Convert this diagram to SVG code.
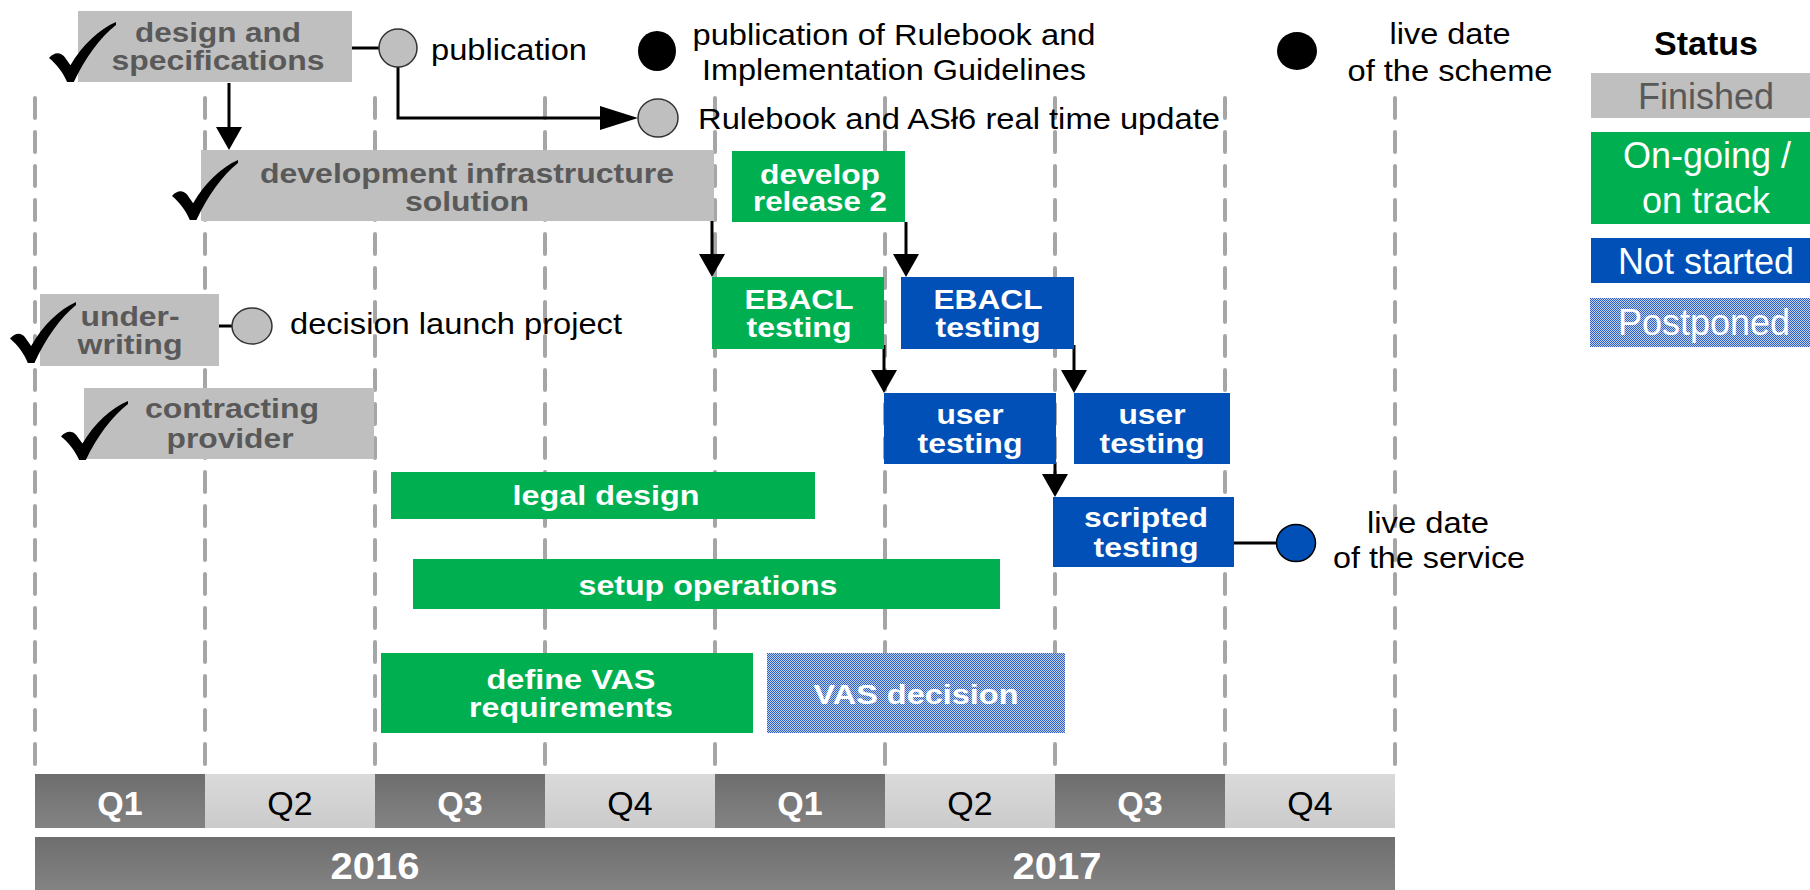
<svg xmlns="http://www.w3.org/2000/svg" width="1810" height="890" viewBox="0 0 1810 890">
<style>
text{font-family:"Liberation Sans",Arial,sans-serif}
.gray{fill:#BFBFBF}
.green{fill:#00B050}
.blue{fill:#0050B8}
.pp{fill:url(#dots)}
.tg{font-weight:bold;font-size:28px;fill:#595959;text-anchor:middle}
.tw{font-weight:bold;font-size:28px;fill:#FFFFFF;text-anchor:middle}
.tb{font-size:30px;fill:#000000}
.grid{stroke:#A6A6A6;stroke-width:4;stroke-dasharray:20 14;stroke-linecap:round;fill:none}
.con{stroke:#000;stroke-width:3;fill:none}
.ms{fill:#BFBFBF;stroke:#333;stroke-width:1.5}
.lg{font-size:36px;text-anchor:middle}
.q{font-size:34px;text-anchor:middle}
</style>
<defs>
<pattern id="dots" width="2" height="2" patternUnits="userSpaceOnUse">
<rect width="2" height="2" fill="#C0D1EF"/>
<rect width="1" height="1" fill="#2F5FC2"/>
<rect x="1" y="1" width="1" height="1" fill="#2F5FC2"/>
</pattern>
<symbol id="chk" viewBox="0 0 100 100" preserveAspectRatio="none">
<path d="M0 60 C8 50 17 50 23 58 L32 72 C50 38 75 12 100 0 L100 5 C76 26 54 60 37 100 L27 100 C21 84 11 70 0 60 Z" fill="#000"/>
</symbol>
<marker id="ah" markerUnits="userSpaceOnUse" markerWidth="23" markerHeight="26" viewBox="0 0 23 26" refX="11" refY="13" orient="auto">
<path d="M0 0 L23 13 L0 26 Z" fill="#000"/>
</marker>
<marker id="ahh" markerUnits="userSpaceOnUse" markerWidth="38" markerHeight="24" viewBox="0 0 38 24" refX="26" refY="12" orient="auto">
<path d="M0 0 L38 12 L0 24 Z" fill="#000"/>
</marker>
<linearGradient id="dk" x1="0" y1="0" x2="0" y2="1"><stop offset="0" stop-color="#6E6E6E"/><stop offset="1" stop-color="#838383"/></linearGradient>
<linearGradient id="lt" x1="0" y1="0" x2="0" y2="1"><stop offset="0" stop-color="#DADADA"/><stop offset="1" stop-color="#CBCBCB"/></linearGradient>
</defs>
<rect width="1810" height="890" fill="#FFFFFF"/>

<g id="grid">
<line class="grid" x1="35" y1="98" x2="35" y2="774"/>
<line class="grid" x1="205" y1="98" x2="205" y2="774"/>
<line class="grid" x1="375" y1="98" x2="375" y2="774"/>
<line class="grid" x1="545" y1="98" x2="545" y2="774"/>
<line class="grid" x1="715" y1="98" x2="715" y2="774"/>
<line class="grid" x1="885" y1="98" x2="885" y2="774"/>
<line class="grid" x1="1055" y1="98" x2="1055" y2="774"/>
<line class="grid" x1="1225" y1="98" x2="1225" y2="774"/>
<line class="grid" x1="1395" y1="98" x2="1395" y2="774"/>
</g>

<g id="timeline">
<rect x="35" y="774" width="170" height="54" fill="url(#dk)"/>
<rect x="205" y="774" width="170" height="54" fill="url(#lt)"/>
<rect x="375" y="774" width="170" height="54" fill="url(#dk)"/>
<rect x="545" y="774" width="170" height="54" fill="url(#lt)"/>
<rect x="715" y="774" width="170" height="54" fill="url(#dk)"/>
<rect x="885" y="774" width="170" height="54" fill="url(#lt)"/>
<rect x="1055" y="774" width="170" height="54" fill="url(#dk)"/>
<rect x="1225" y="774" width="170" height="54" fill="url(#lt)"/>
<text class="q" x="120" y="815" fill="#fff" font-weight="bold">Q1</text>
<text class="q" x="290" y="815" fill="#000">Q2</text>
<text class="q" x="460" y="815" fill="#fff" font-weight="bold">Q3</text>
<text class="q" x="630" y="815" fill="#000">Q4</text>
<text class="q" x="800" y="815" fill="#fff" font-weight="bold">Q1</text>
<text class="q" x="970" y="815" fill="#000">Q2</text>
<text class="q" x="1140" y="815" fill="#fff" font-weight="bold">Q3</text>
<text class="q" x="1310" y="815" fill="#000">Q4</text>
<rect x="35" y="837" width="1360" height="53" fill="url(#dk)"/>
<text x="375" y="879" fill="#fff" font-weight="bold" font-size="36" text-anchor="middle" textLength="89" lengthAdjust="spacingAndGlyphs">2016</text>
<text x="1057" y="879" fill="#fff" font-weight="bold" font-size="36" text-anchor="middle" textLength="89" lengthAdjust="spacingAndGlyphs">2017</text>
</g>

<g id="connectors">
<line class="con" x1="352" y1="48" x2="379" y2="48"/>
<path class="con" d="M398 67 V118 H626" marker-end="url(#ahh)"/>
<line class="con" x1="229" y1="83" x2="229" y2="138" marker-end="url(#ah)"/>
<line class="con" x1="219" y1="326" x2="232" y2="326"/>
<line class="con" x1="712" y1="221" x2="712" y2="265" marker-end="url(#ah)"/>
<line class="con" x1="906" y1="222" x2="906" y2="265" marker-end="url(#ah)"/>
<line class="con" x1="884" y1="345" x2="884" y2="381" marker-end="url(#ah)"/>
<line class="con" x1="1074" y1="345" x2="1074" y2="381" marker-end="url(#ah)"/>
<line class="con" x1="1055" y1="462" x2="1055" y2="485" marker-end="url(#ah)"/>
<line class="con" x1="1234" y1="543" x2="1277" y2="543"/>
</g>

<g id="design-specs">
<rect class="gray" x="78" y="11" width="274" height="71"/>
<use href="#chk" x="49" y="22" width="67" height="60"/>
<text class="tg" x="218" y="42" textLength="166" lengthAdjust="spacingAndGlyphs">design and</text>
<text class="tg" x="218" y="70" textLength="213" lengthAdjust="spacingAndGlyphs">specifications</text>
</g>

<g id="publication">
<ellipse class="ms" cx="398" cy="48" rx="19" ry="19"/>
<text class="tb" x="431" y="60" textLength="156" lengthAdjust="spacingAndGlyphs">publication</text>
</g>

<g id="publication-rulebook">
<ellipse cx="657" cy="51" rx="19" ry="20" fill="#000"/>
<text class="tb" x="894" y="45" text-anchor="middle" textLength="403" lengthAdjust="spacingAndGlyphs">publication of Rulebook and</text>
<text class="tb" x="894" y="80" text-anchor="middle" textLength="384" lengthAdjust="spacingAndGlyphs">Implementation Guidelines</text>
</g>

<g id="rulebook-update">
<ellipse class="ms" cx="658" cy="118" rx="20" ry="19"/>
<text class="tb" x="698" y="129" textLength="522" lengthAdjust="spacingAndGlyphs">Rulebook and ASł6 real time update</text>
</g>

<g id="live-scheme">
<ellipse cx="1297" cy="51" rx="20" ry="19" fill="#000"/>
<text class="tb" x="1450" y="44" text-anchor="middle" textLength="121" lengthAdjust="spacingAndGlyphs">live date</text>
<text class="tb" x="1450" y="81" text-anchor="middle" textLength="205" lengthAdjust="spacingAndGlyphs">of the scheme</text>
</g>

<g id="dev-infra">
<rect class="gray" x="201" y="150" width="513" height="71"/>
<use href="#chk" x="172" y="160" width="66" height="60"/>
<text class="tg" x="467" y="183" textLength="414" lengthAdjust="spacingAndGlyphs">development infrastructure</text>
<text class="tg" x="467" y="211" textLength="124" lengthAdjust="spacingAndGlyphs">solution</text>
</g>

<g id="develop-release2">
<rect class="green" x="732" y="151" width="173" height="71"/>
<text class="tw" x="820" y="184" textLength="120" lengthAdjust="spacingAndGlyphs">develop</text>
<text class="tw" x="820" y="211" textLength="134" lengthAdjust="spacingAndGlyphs">release 2</text>
</g>

<g id="underwriting">
<rect class="gray" x="40" y="294" width="179" height="72"/>
<use href="#chk" x="10" y="302" width="66" height="61"/>
<text class="tg" x="130" y="326" textLength="99" lengthAdjust="spacingAndGlyphs">under-</text>
<text class="tg" x="130" y="354" textLength="105" lengthAdjust="spacingAndGlyphs">writing</text>
</g>

<g id="decision-launch">
<ellipse class="ms" cx="252" cy="326" rx="20" ry="18"/>
<text class="tb" x="290" y="334" textLength="332" lengthAdjust="spacingAndGlyphs">decision launch project</text>
</g>

<g id="contracting">
<rect class="gray" x="84" y="388" width="290" height="71"/>
<use href="#chk" x="61" y="401" width="67" height="59"/>
<text class="tg" x="232" y="418" textLength="174" lengthAdjust="spacingAndGlyphs">contracting</text>
<text class="tg" x="230" y="448" textLength="127" lengthAdjust="spacingAndGlyphs">provider</text>
</g>

<g id="ebacl-1">
<rect class="green" x="712" y="277" width="172" height="72"/>
<text class="tw" x="799" y="309" textLength="109" lengthAdjust="spacingAndGlyphs">EBACL</text>
<text class="tw" x="799" y="337" textLength="105" lengthAdjust="spacingAndGlyphs">testing</text>
</g>

<g id="ebacl-2">
<rect class="blue" x="901" y="277" width="173" height="72"/>
<text class="tw" x="988" y="309" textLength="109" lengthAdjust="spacingAndGlyphs">EBACL</text>
<text class="tw" x="988" y="337" textLength="105" lengthAdjust="spacingAndGlyphs">testing</text>
</g>

<g id="user-testing-1">
<rect class="blue" x="884" y="393" width="172" height="71"/>
<text class="tw" x="970" y="424" textLength="67" lengthAdjust="spacingAndGlyphs">user</text>
<text class="tw" x="970" y="453" textLength="105" lengthAdjust="spacingAndGlyphs">testing</text>
</g>

<g id="user-testing-2">
<rect class="blue" x="1074" y="393" width="156" height="71"/>
<text class="tw" x="1152" y="424" textLength="67" lengthAdjust="spacingAndGlyphs">user</text>
<text class="tw" x="1152" y="453" textLength="105" lengthAdjust="spacingAndGlyphs">testing</text>
</g>

<g id="scripted-testing">
<rect class="blue" x="1053" y="497" width="181" height="70"/>
<text class="tw" x="1146" y="527" textLength="124" lengthAdjust="spacingAndGlyphs">scripted</text>
<text class="tw" x="1146" y="557" textLength="105" lengthAdjust="spacingAndGlyphs">testing</text>
</g>

<g id="live-service">
<ellipse cx="1296" cy="543" rx="19.5" ry="18.5" fill="#0050B8" stroke="#000" stroke-width="1.5"/>
<text class="tb" x="1428" y="533" text-anchor="middle" textLength="122" lengthAdjust="spacingAndGlyphs">live date</text>
<text class="tb" x="1429" y="568" text-anchor="middle" textLength="192" lengthAdjust="spacingAndGlyphs">of the service</text>
</g>

<g id="legal-design">
<rect class="green" x="391" y="472" width="424" height="47"/>
<text class="tw" x="606" y="505" textLength="187" lengthAdjust="spacingAndGlyphs">legal design</text>
</g>

<g id="setup-operations">
<rect class="green" x="413" y="559" width="587" height="50"/>
<text class="tw" x="708" y="595" textLength="259" lengthAdjust="spacingAndGlyphs">setup operations</text>
</g>

<g id="define-vas">
<rect class="green" x="381" y="653" width="372" height="80"/>
<text class="tw" x="571" y="689" textLength="169" lengthAdjust="spacingAndGlyphs">define VAS</text>
<text class="tw" x="571" y="717" textLength="204" lengthAdjust="spacingAndGlyphs">requirements</text>
</g>

<g id="vas-decision">
<rect class="pp" x="767" y="653" width="298" height="80"/>
<text class="tw" x="916" y="704" textLength="205" lengthAdjust="spacingAndGlyphs">VAS decision</text>
</g>

<g id="legend">
<text x="1706" y="55" font-weight="bold" font-size="34" text-anchor="middle" fill="#000">Status</text>
<rect class="gray" x="1591" y="73" width="240" height="45"/>
<text class="lg" x="1706" y="109" fill="#595959">Finished</text>
<rect class="green" x="1591" y="132" width="240" height="92"/>
<text class="lg" x="1707" y="168" fill="#fff">On-going /</text>
<text class="lg" x="1706" y="213" fill="#fff">on track</text>
<rect class="blue" x="1591" y="238" width="240" height="45"/>
<text class="lg" x="1706" y="274" fill="#fff">Not started</text>
<rect class="pp" x="1590" y="298" width="240" height="49"/>
<text class="lg" x="1704" y="335" fill="#fff">Postponed</text>
</g>
</svg>
